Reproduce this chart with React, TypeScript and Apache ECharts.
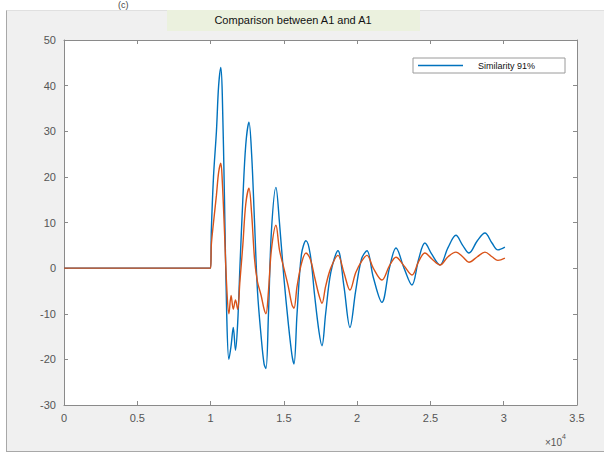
import React, { useEffect, useRef } from "react";
import * as echarts from "echarts";

// x positions (raw sample index), blue series (Similarity), orange series
const xValues = [
  0, 10000, 10050, 10200, 10400, 10550, 10700, 10800, 10950, 11100, 11250, 11400,
  11550, 11700, 11850, 12000, 12200, 12400, 12620, 12800, 13000, 13200, 13450,
  13650, 13780, 13950, 14150, 14460, 14700, 15000, 15300, 15550, 15690, 15900,
  16200, 16510, 16800, 17100, 17400, 17600, 17850, 18200, 18690, 19100, 19510,
  19900, 20300, 20670, 21100, 21690, 22200, 22650, 23200, 23740, 24200, 24620,
  25100, 25650, 26200, 26740, 27200, 27630, 28200, 28720, 29200, 29600, 30080,
];
const blueValues = [
  0, 0, 8, 20, 30, 40, 44, 38, 15, -10, -20, -17,
  -13, -18, -12, 0, 15, 27, 32, 25, 10, -5, -15,
  -21, -22, -10, 8, 17.7, 10, -2, -12, -19, -21, -10,
  3, 6, 3, -6, -14, -17, -10, -1, 3.8, -4, -13,
  -5, 2, 3.8, -2, -7.5, 0, 4.4, 0, -3.7, 2, 5.5,
  3, 0.7, 4.5, 7.2, 5, 3.3, 6, 7.7, 5.5, 4, 4.6,
];
const orangeValues = [
  0, 0, 5, 10, 16, 21, 23, 19, 8, -4, -10, -6,
  -9, -7, -9, -3, 5, 14, 17.5, 12, 2, -3, -6,
  -9, -10, -5, 4, 9.4, 4, 0, -4, -8, -8.8, -4,
  1, 3.3, 2, -2, -6, -7.7, -4, 0, 2.8, -1, -4.8,
  -1, 1.5, 2.8, 0, -2.6, 0.5, 2.4, 0.5, -1.5, 1.5, 3.3,
  2, 0.7, 2.5, 3.5, 2.5, 1.3, 2.5, 3.5, 2.5, 1.7, 2.2,
];
const xTicks = [0, 0.5, 1, 1.5, 2, 2.5, 3, 3.5];
const yTicks = [-30, -20, -10, 0, 10, 20, 30, 40, 50];
const titleText = "Comparison between A1 and A1";
const legendName = "Similarity 91%";

export default function App() {
  const ref = useRef<HTMLDivElement>(null);
  useEffect(() => {
    document.body.style.margin = "0";
    const chart = echarts.init(ref.current!, null, { renderer: "svg" });
    const font = "'Liberation Sans', Arial, sans-serif";
    const axisColor = "#8a8a8a";
    const labelColor = "#555";
    const common = {
      axisLine: { show: true, onZero: false, lineStyle: { color: axisColor, width: 1 } },
      axisTick: { show: true, inside: true, length: 4, lineStyle: { color: axisColor } },
      splitLine: { show: false },
    };
    chart.setOption({
      animation: false,
      backgroundColor: "transparent",
      grid: {
        left: 64, top: 40, right: 27, bottom: 49,
        show: true, backgroundColor: "#fff", borderColor: axisColor, borderWidth: 0,
      },
      legend: {
        data: [legendName],
        left: 413, top: 58,
        icon: "rect", itemWidth: 45, itemHeight: 1.5, itemGap: 0,
        padding: [3, 30, 3, 5],
        backgroundColor: "#fff", borderColor: "#9a9a9a", borderWidth: 1, borderRadius: 0,
        textStyle: { fontSize: 9, fontFamily: font, color: "#111", padding: [0, 0, 0, 10] },
      },
      xAxis: [
        {
          type: "value", min: 0, max: 35000, interval: 5000, position: "bottom",
          ...common,
          axisLabel: {
            color: labelColor, fontSize: 11, fontFamily: font, margin: 7,
            formatter: (v: number) => {
              const t = xTicks.find((k) => Math.abs(k * 10000 - v) < 1);
              return t === undefined ? "" : String(t);
            },
          },
        },
        {
          type: "value", min: 0, max: 35000, interval: 5000, position: "top",
          ...common, axisLabel: { show: false },
        },
      ],
      yAxis: [
        {
          type: "value", min: -30, max: 50, interval: 10, position: "left",
          ...common,
          axisLabel: {
            color: labelColor, fontSize: 11, fontFamily: font, margin: 8,
            formatter: (v: number) => (yTicks.includes(v) ? String(v) : ""),
          },
        },
        {
          type: "value", min: -30, max: 50, interval: 10, position: "right",
          ...common, axisLabel: { show: false },
        },
      ],
      series: [
        {
          name: legendName, type: "line", xAxisIndex: 0, yAxisIndex: 0,
          data: xValues.map((x, i) => [x, blueValues[i]]),
          showSymbol: false, smooth: 0.35, color: "#0072BD",
          lineStyle: { width: 1.4, color: "#0072BD" },
          z: 2,
        },
        {
          name: "A1", type: "line", xAxisIndex: 0, yAxisIndex: 0,
          data: xValues.map((x, i) => [x, orangeValues[i]]),
          showSymbol: false, smooth: 0.35, color: "#D95319",
          lineStyle: { width: 1.4, color: "#D95319" },
          z: 3,
        },
      ],
      graphic: [
        {
          type: "rect", left: 167, top: 10, shape: { width: 253, height: 21 },
          style: { fill: "#ebf1de" }, z: 10,
        },
        {
          type: "text", x: 293, y: 20, z: 11,
          style: {
            text: titleText, fontSize: 11, fontFamily: font, fill: "#111",
            align: "center", verticalAlign: "middle",
          },
        },
        {
          type: "text", x: 545, y: 440, z: 11,
          style: {
            text: "{a|×10}{b|4}",
            rich: {
              a: { fontSize: 10, fontFamily: font, fill: "#555", verticalAlign: "bottom" },
              b: { fontSize: 7, fontFamily: font, fill: "#555", padding: [0, 0, 8, 0] },
            },
            verticalAlign: "middle",
          },
        },
        {
          type: "text", x: 118, y: 0, z: 11,
          style: { text: "(c)", fontSize: 9, fontFamily: font, fill: "#444" },
        },
      ],
    });
    return () => chart.dispose();
  }, []);
  return (
    <div style={{ position: "relative", width: 604, height: 454, background: "#fff" }}>
      <div
        style={{
          position: "absolute", left: 6, top: 10, width: 598, height: 442,
          background: "#f0f0f0", borderLeft: "1px solid #a8a8a8", borderBottom: "1px solid #a8a8a8",
          borderTop: "1px solid #e0e0e0", boxSizing: "border-box",
        }}
      />
      <div ref={ref} style={{ position: "absolute", left: 0, top: 0, width: 604, height: 454 }} />
    </div>
  );
}
